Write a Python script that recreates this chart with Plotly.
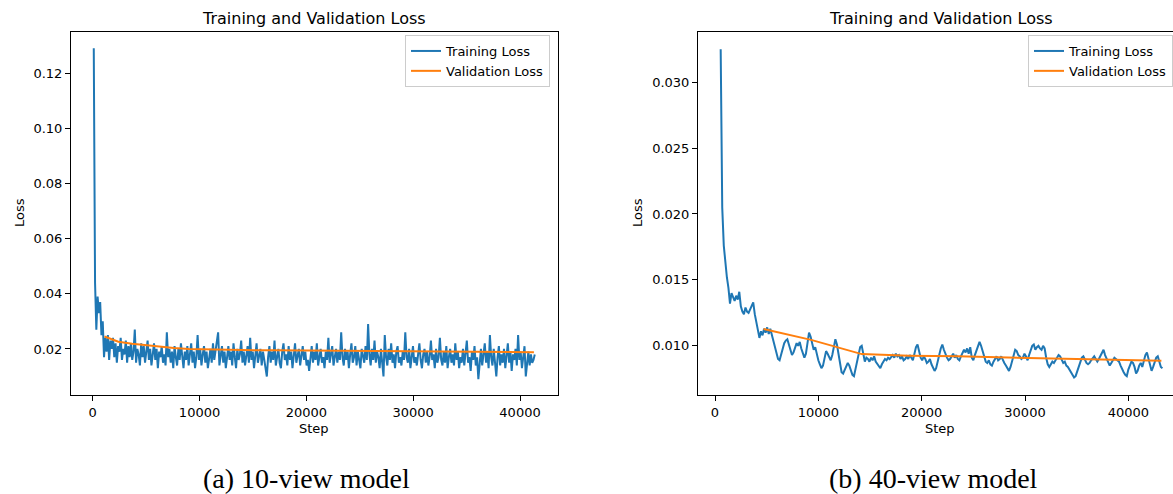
import plotly.graph_objects as go

# ---------------- data: (a) 10-view model ----------------
train_a_start = 100
train_a_interval = 120
train_a_loss = [
    0.129, 0.044, 0.027, 0.039, 0.033, 0.037, 0.025, 0.030, 0.017, 0.024, 0.019, 0.025, 0.016, 0.023, 0.020,
    0.024, 0.017, 0.022, 0.015, 0.021, 0.019, 0.024, 0.016, 0.020, 0.018, 0.023, 0.015, 0.021, 0.017, 0.022,
    0.016, 0.019, 0.027, 0.015, 0.020, 0.018, 0.014, 0.022, 0.017, 0.021, 0.015, 0.019, 0.023, 0.016, 0.020,
    0.014, 0.018, 0.022, 0.016, 0.020, 0.013, 0.019, 0.017, 0.021, 0.015, 0.018, 0.014, 0.026, 0.017, 0.020,
    0.015, 0.019, 0.013, 0.021, 0.017, 0.014, 0.020, 0.016, 0.022, 0.018, 0.013, 0.019, 0.016, 0.021, 0.014,
    0.018, 0.022, 0.015, 0.019, 0.013, 0.017, 0.025, 0.016, 0.020, 0.014, 0.018, 0.021, 0.015, 0.019, 0.013,
    0.017, 0.020, 0.015, 0.022, 0.016, 0.019, 0.023, 0.026, 0.014, 0.018, 0.021, 0.015, 0.019, 0.013, 0.017,
    0.021, 0.016, 0.019, 0.014, 0.022, 0.017, 0.013, 0.020, 0.016, 0.018, 0.023, 0.015, 0.019, 0.014, 0.017,
    0.021, 0.015, 0.024, 0.016, 0.019, 0.013, 0.018, 0.022, 0.015, 0.017, 0.020, 0.014, 0.019, 0.016, 0.013,
    0.010, 0.017, 0.021, 0.015, 0.019, 0.016, 0.023, 0.014, 0.018, 0.020, 0.015, 0.013, 0.019, 0.022, 0.016,
    0.018, 0.014, 0.021, 0.016, 0.019, 0.013, 0.017, 0.022, 0.015, 0.018, 0.020, 0.014, 0.017, 0.021, 0.016,
    0.019, 0.014, 0.016, 0.012, 0.018, 0.021, 0.015, 0.019, 0.016, 0.022, 0.014, 0.018, 0.020, 0.015, 0.017,
    0.013, 0.019, 0.016, 0.024, 0.015, 0.018, 0.021, 0.014, 0.017, 0.020, 0.015, 0.019, 0.016, 0.026, 0.017,
    0.014, 0.020, 0.016, 0.019, 0.013, 0.018, 0.022, 0.015, 0.017, 0.021, 0.014, 0.019, 0.016, 0.013, 0.020,
    0.017, 0.015, 0.021, 0.016, 0.029, 0.018, 0.014, 0.020, 0.016, 0.023, 0.015, 0.019, 0.017, 0.013, 0.020,
    0.016, 0.010, 0.025, 0.017, 0.014, 0.020, 0.016, 0.022, 0.015, 0.018, 0.013, 0.019, 0.021, 0.015, 0.017,
    0.014, 0.019, 0.016, 0.026, 0.017, 0.015, 0.020, 0.013, 0.018, 0.021, 0.015, 0.017, 0.014, 0.019, 0.022,
    0.016, 0.013, 0.018, 0.020, 0.015, 0.019, 0.014, 0.017, 0.023, 0.016, 0.018, 0.013, 0.020, 0.015, 0.017,
    0.024, 0.016, 0.014, 0.019, 0.015, 0.021, 0.013, 0.017, 0.020, 0.015, 0.018, 0.014, 0.022, 0.016, 0.019,
    0.013, 0.017, 0.015, 0.020, 0.014, 0.018, 0.023, 0.015, 0.017, 0.012, 0.019, 0.016, 0.021, 0.014, 0.017,
    0.009, 0.016, 0.020, 0.014, 0.018, 0.022, 0.015, 0.019, 0.013, 0.025, 0.017, 0.014, 0.020, 0.016, 0.010,
    0.017, 0.021, 0.014, 0.018, 0.015, 0.020, 0.013, 0.017, 0.022, 0.015, 0.019, 0.012, 0.018, 0.016, 0.020,
    0.014, 0.025, 0.016, 0.019, 0.013, 0.017, 0.021, 0.010, 0.016, 0.019, 0.014, 0.018, 0.015, 0.016, 0.018,
]
val_a_steps = [1100, 2400, 3700, 5000, 6300, 7600, 9000, 11000, 14000, 17000,
               20000, 23000, 26000, 29000, 32000, 35000, 38000, 41300]
val_a_loss = [0.0245, 0.0226, 0.0219, 0.0213, 0.0207, 0.0203, 0.0200, 0.0198, 0.0196, 0.0195,
              0.0194, 0.0193, 0.0192, 0.0191, 0.0189, 0.0189, 0.0188, 0.0188]

# ---------------- data: (b) 40-view model ----------------
train_b_start = 550
train_b_interval = 150
train_b_loss = [
    0.0325, 0.0205, 0.0176, 0.0162, 0.0152, 0.0144, 0.0132, 0.0140, 0.0136, 0.0134,
    0.0138, 0.0135, 0.0141, 0.0130, 0.0126, 0.0124, 0.0129, 0.0126, 0.0125, 0.0128,
    0.0130, 0.0133, 0.0124, 0.0117, 0.0112, 0.0106, 0.0111, 0.0108, 0.0113, 0.0110,
    0.0114, 0.0109, 0.0113, 0.0108, 0.0103, 0.0100, 0.0094, 0.0090, 0.0089, 0.0094,
    0.0099, 0.0102, 0.0104, 0.0105, 0.0101, 0.0097, 0.0093, 0.0095, 0.0099, 0.0102,
    0.0100, 0.0103, 0.0098, 0.0094, 0.0091, 0.0094, 0.0103, 0.0110, 0.0107, 0.0101,
    0.0097, 0.0099, 0.0093, 0.0089, 0.0086, 0.0083, 0.0085, 0.0091, 0.0096, 0.0094,
    0.0091, 0.0089, 0.0093, 0.0100, 0.0105, 0.0101, 0.0093, 0.0086, 0.0080, 0.0079,
    0.0082, 0.0084, 0.0087, 0.0085, 0.0081, 0.0078, 0.0077, 0.0083, 0.0088, 0.0094,
    0.0099, 0.0100, 0.0094, 0.0088, 0.0091, 0.0090, 0.0088, 0.0091, 0.0089, 0.0092,
    0.0088, 0.0086, 0.0084, 0.0083, 0.0086, 0.0088, 0.0090, 0.0089, 0.0091, 0.0090,
    0.0092, 0.0093, 0.0091, 0.0094, 0.0092, 0.0093, 0.0090, 0.0092, 0.0089, 0.0090,
    0.0092, 0.0090, 0.0093, 0.0091, 0.0089, 0.0094, 0.0099, 0.0101, 0.0095, 0.0091,
    0.0089, 0.0092, 0.0090, 0.0087, 0.0088, 0.0090, 0.0086, 0.0084, 0.0081, 0.0083,
    0.0087, 0.0093, 0.0098, 0.0101, 0.0097, 0.0093, 0.0091, 0.0089, 0.0090, 0.0092,
    0.0094, 0.0091, 0.0093, 0.0090, 0.0089, 0.0092, 0.0095, 0.0097, 0.0095, 0.0098,
    0.0094, 0.0099, 0.0091, 0.0089, 0.0093, 0.0097, 0.0101, 0.0103, 0.0100, 0.0096,
    0.0090, 0.0088, 0.0087, 0.0089, 0.0086, 0.0085, 0.0088, 0.0090, 0.0092, 0.0089,
    0.0090, 0.0092, 0.0089, 0.0087, 0.0085, 0.0083, 0.0081, 0.0084, 0.0089, 0.0094,
    0.0097, 0.0096, 0.0093, 0.0092, 0.0090, 0.0091, 0.0094, 0.0092, 0.0089, 0.0093,
    0.0097, 0.0100, 0.0101, 0.0097, 0.0099, 0.0100, 0.0098, 0.0097, 0.0100, 0.0098,
    0.0091, 0.0086, 0.0084, 0.0086, 0.0088, 0.0087, 0.0089, 0.0091, 0.0093, 0.0092,
    0.0089, 0.0087, 0.0088, 0.0085, 0.0084, 0.0082, 0.0080, 0.0078, 0.0076, 0.0077,
    0.0081, 0.0085, 0.0088, 0.0091, 0.0092, 0.0089, 0.0087, 0.0086, 0.0087, 0.0089,
    0.0091, 0.0092, 0.0090, 0.0088, 0.0090, 0.0092, 0.0095, 0.0097, 0.0093, 0.0090,
    0.0088, 0.0085, 0.0087, 0.0089, 0.0091, 0.0090, 0.0089, 0.0088, 0.0085, 0.0082,
    0.0080, 0.0078, 0.0077, 0.0082, 0.0086, 0.0088, 0.0087, 0.0084, 0.0079, 0.0081,
    0.0085, 0.0087, 0.0084, 0.0089, 0.0093, 0.0095, 0.0090, 0.0085, 0.0081, 0.0084,
    0.0088, 0.0091, 0.0092, 0.0088, 0.0084, 0.0083,
]
val_b_steps = [4700, 9300, 14200, 18800, 23500, 28200, 32900, 37600, 43200]
val_b_loss = [0.01127, 0.01045, 0.00937, 0.00925, 0.00920, 0.00912, 0.00899, 0.00895, 0.00886]

train_a_steps = [train_a_start + i * train_a_interval for i in range(len(train_a_loss))]
train_b_steps = [train_b_start + i * train_b_interval for i in range(len(train_b_loss))]

BLUE = "#1f77b4"
ORANGE = "#ff7f0e"
FONT = "DejaVu Sans"
W, H = 1173, 494

fig = go.Figure()
fig.add_trace(go.Scatter(x=train_a_steps, y=train_a_loss, mode="lines", name="Training Loss",
                         line=dict(color=BLUE, width=2), xaxis="x", yaxis="y", legend="legend"))
fig.add_trace(go.Scatter(x=val_a_steps, y=val_a_loss, mode="lines", name="Validation Loss",
                         line=dict(color=ORANGE, width=2), xaxis="x", yaxis="y", legend="legend"))
fig.add_trace(go.Scatter(x=train_b_steps, y=train_b_loss, mode="lines", name="Training Loss",
                         line=dict(color=BLUE, width=2), xaxis="x2", yaxis="y2", legend="legend2"))
fig.add_trace(go.Scatter(x=val_b_steps, y=val_b_loss, mode="lines", name="Validation Loss",
                         line=dict(color=ORANGE, width=2), xaxis="x2", yaxis="y2", legend="legend2"))

def px_x(p):
    return p / W

def px_y(p):
    return 1 - p / H

axis_common = dict(showline=True, linecolor="black", linewidth=1, ticks="outside",
                   ticklen=5, tickwidth=1, tickcolor="black", showgrid=False, zeroline=False,
                   tickfont=dict(family=FONT, size=13, color="black"))

ydom = [px_y(395), px_y(32)]
fig.update_layout(
    width=W, height=H,
    margin=dict(l=0, r=0, t=0, b=0),
    paper_bgcolor="white", plot_bgcolor="white",
    font=dict(family=FONT, size=13, color="black"),
    xaxis=dict(domain=[px_x(71), px_x(558)], range=[-2031, 43555], anchor="y", mirror=True,
               tickvals=[0, 10000, 20000, 30000, 40000], tickformat="d", **axis_common),
    yaxis=dict(domain=ydom, range=[0.0033, 0.1349], anchor="x", mirror=True,
               tickvals=[0.02, 0.04, 0.06, 0.08, 0.10, 0.12], tickformat=".2f", **axis_common),
    xaxis2=dict(domain=[px_x(698), 1.0], range=[-1645, 44323], anchor="y2", mirror=True,
                tickvals=[0, 10000, 20000, 30000, 40000], tickformat="d", **axis_common),
    yaxis2=dict(domain=ydom, range=[0.00627, 0.0338], anchor="x2", mirror=False,
                tickvals=[0.010, 0.015, 0.020, 0.025, 0.030], tickformat=".3f", **axis_common),
    legend=dict(x=px_x(550), y=px_y(35), xanchor="right", yanchor="top",
                bgcolor="rgba(255,255,255,0.8)", bordercolor="#cccccc", borderwidth=1,
                font=dict(family=FONT, size=13, color="black"), tracegroupgap=0),
    legend2=dict(x=px_x(1028), y=px_y(35), xanchor="left", yanchor="top",
                 bgcolor="rgba(255,255,255,0.8)", bordercolor="#cccccc", borderwidth=1,
                 font=dict(family=FONT, size=13, color="black"), tracegroupgap=0),
    showlegend=True,
)

annotations = [
    dict(text="Training and Validation Loss", x=px_x(314), y=px_y(18), size=16),
    dict(text="Training and Validation Loss", x=px_x(941), y=px_y(18), size=16),
    dict(text="Step", x=px_x(314), y=px_y(428), size=13),
    dict(text="Step", x=px_x(940), y=px_y(428), size=13),
]
for a in annotations:
    fig.add_annotation(text=a["text"], x=a["x"], y=a["y"], xref="paper", yref="paper",
                       showarrow=False, xanchor="center", yanchor="middle",
                       font=dict(family=FONT, size=a["size"], color="black"))
for xp in (19, 637):
    fig.add_annotation(text="Loss", x=px_x(xp), y=px_y(213), xref="paper", yref="paper",
                       showarrow=False, textangle=-90, xanchor="center", yanchor="middle",
                       font=dict(family=FONT, size=13, color="black"))
for txt, xp in (("(a) 10-view model", 306), ("(b) 40-view model", 933)):
    fig.add_annotation(text=txt, x=px_x(xp), y=px_y(478), xref="paper", yref="paper",
                       showarrow=False, xanchor="center", yanchor="middle",
                       font=dict(family="Liberation Serif", size=28, color="black"))

fig.write_html("out.html")
